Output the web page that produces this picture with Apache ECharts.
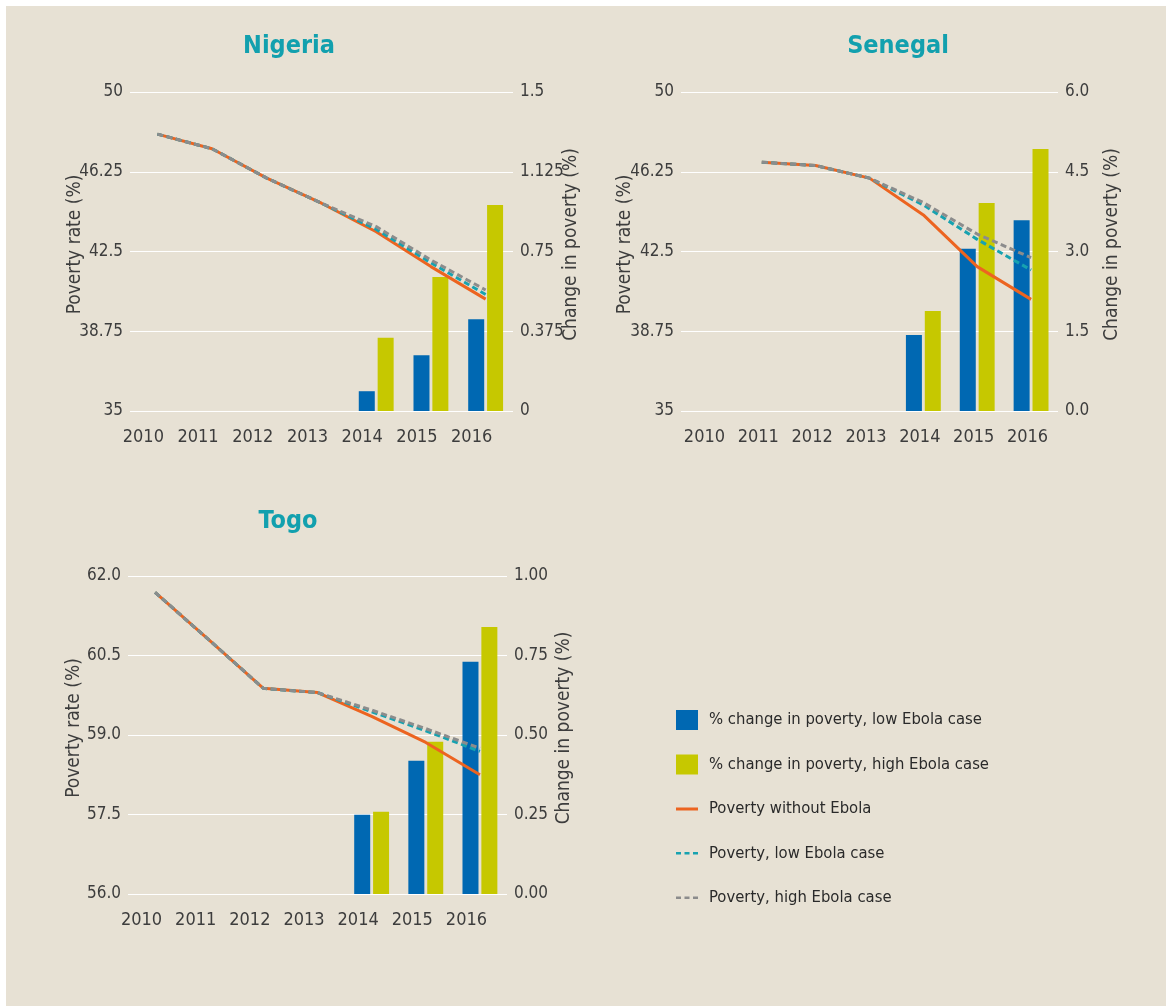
<!DOCTYPE html>
<html>
    <head>
        <meta charset="utf-8">
        <script src="https://cdn.jsdelivr.net/npm/echarts@6.0.0/dist/echarts.min.js"></script>
        <style>
            body { margin: 0; background: #ffffff; }
            #bg { position: absolute; left: 6px; top: 6px; right: 0; bottom: 0; background: #e7e1d4; }
            #main { position: absolute; left: 0; top: 0; width: 1166px; height: 1006px; }
        </style>
    </head>
    <body>
        <div id="bg"></div>
        <div id="main"></div>
        <script>
            var years = ['2010', '2011', '2012', '2013', '2014', '2015', '2016'];

            // Nigeria
            var ngNoEbola = [48.02, 47.33, 45.95, 44.77, 43.43, 41.79, 40.26];
            var ngLow     = [48.02, 47.33, 45.95, 44.77, 43.54, 41.97, 40.48];
            var ngHigh    = [48.02, 47.33, 45.95, 44.77, 43.67, 42.10, 40.69];
            var ngBarLow  = [null, null, null, null, 0.093, 0.262, 0.432];
            var ngBarHigh = [null, null, null, null, 0.344, 0.630, 0.969];

            // Senegal
            var snNoEbola = [null, 46.70, 46.54, 45.95, 44.22, 41.79, 40.25];
            var snLow     = [null, 46.70, 46.54, 45.95, 44.69, 43.07, 41.63];
            var snHigh    = [null, 46.70, 46.54, 45.95, 44.80, 43.32, 42.21];
            var snBarLow  = [null, null, null, null, 1.43, 3.05, 3.59];
            var snBarHigh = [null, null, null, null, 1.88, 3.91, 4.93];

            // Togo
            var tgNoEbola = [61.69, 60.79, 59.88, 59.80, 59.35, 58.86, 58.25];
            var tgLow     = [61.69, 60.79, 59.88, 59.80, 59.44, 59.08, 58.69];
            var tgHigh    = [61.69, 60.79, 59.88, 59.80, 59.47, 59.12, 58.75];
            var tgBarLow  = [null, null, null, null, 0.249, 0.419, 0.730];
            var tgBarHigh = [null, null, null, null, 0.259, 0.479, 0.840];

            var FONT = "'DejaVu Sans Condensed', 'Liberation Sans Narrow', sans-serif";
            var TXT = '#3d3d3d';
            var C_BLUE = '#0068b2';
            var C_GREEN = '#c6c800';
            var C_ORANGE = '#ec6420';
            var C_TEAL = '#17a2b0';
            var C_GREY = '#8c8c8c';

            var N_BAR_LOW = '% change in poverty, low Ebola case';
            var N_BAR_HIGH = '% change in poverty, high Ebola case';
            var N_NO = 'Poverty without Ebola';
            var N_LOW = 'Poverty, low Ebola case';
            var N_HIGH = 'Poverty, high Ebola case';

            // legend icons: tiny corner dots keep the 22x20 box so the stroke stays thin
            var ICON_SOLID = 'path://M0,0h0.01v0.01h-0.01z M0,8.5h22v3h-22z M21.99,19.99h0.01v0.01h-0.01z';
            var ICON_DASH = 'path://M0,0h0.01v0.01h-0.01z M0,8.5h5v2.5h-5z M8.5,8.5h5v2.5h-5z M17,8.5h5v2.5h-5z M21.99,19.99h0.01v0.01h-0.01z';

            var chartDom = document.getElementById('main');
            var myChart = echarts.init(chartDom);

            function xAxisFor(gi, shift) {
                return {
                    type: 'category', gridIndex: gi, data: years,
                    axisLine: { show: false }, axisTick: { show: false },
                    axisLabel: { interval: 0, color: TXT, fontFamily: FONT, fontSize: 18, margin: 17, padding: [0, shift, 0, 0] }
                };
            }
            function yAxisFor(gi, pos, min, max, interval, name, gap, fmt) {
                return {
                    type: 'value', gridIndex: gi, position: pos,
                    min: min, max: max, interval: interval,
                    name: name, nameLocation: 'middle', nameGap: gap, nameRotate: 90,
                    nameMoveOverlap: false,
                    nameTextStyle: { color: TXT, fontFamily: FONT, fontSize: 19, padding: [0, 0, 0, 14] },
                    axisLine: { show: false }, axisTick: { show: false },
                    axisLabel: { color: TXT, fontFamily: FONT, fontSize: 17, margin: 7, formatter: fmt },
                    splitLine: { show: pos === 'left', lineStyle: { color: '#ffffff', width: 1.2 } }
                };
            }
            function barSeries(name, xi, yi, data, color) {
                return {
                    type: 'bar', name: name, xAxisIndex: xi, yAxisIndex: yi, data: data,
                    barWidth: 16, barGap: '18%', itemStyle: { color: color }
                };
            }
            function lineSeries(name, xi, yi, data, color, dashed) {
                return {
                    type: 'line', name: name, xAxisIndex: xi, yAxisIndex: yi, data: data,
                    symbol: 'none', showSymbol: false,
                    lineStyle: { color: color, width: 3, type: dashed ? [6, 3.5] : 'solid' },
                    itemStyle: { color: color }
                };
            }

            var option = {
                animation: false,
                textStyle: { fontFamily: FONT },
                title: [
                    { text: 'Nigeria', left: 289, top: 34 },
                    { text: 'Senegal', left: 898, top: 34 },
                    { text: 'Togo', left: 288, top: 509 }
                ].map(function (t) {
                    t.textAlign = 'center';
                    t.padding = 0;
                    t.textStyle = { color: '#12a0ae', fontFamily: FONT, fontSize: 25, fontWeight: 'bold' };
                    return t;
                }),
                legend: {
                    orient: 'vertical', left: 676, top: 710, padding: 0,
                    itemWidth: 22, itemHeight: 20, itemGap: 24.5,
                    textStyle: { color: '#2a2a2a', fontFamily: FONT, fontSize: 16.5, padding: [0, 0, 0, 6] },
                    data: [
                        { name: N_BAR_LOW, icon: 'rect' },
                        { name: N_BAR_HIGH, icon: 'rect' },
                        { name: N_NO, icon: ICON_SOLID },
                        { name: N_LOW, icon: ICON_DASH },
                        { name: N_HIGH, icon: ICON_DASH }
                    ]
                },
                grid: [
                    { left: 130, top: 92, width: 383, height: 319 },
                    { left: 681, top: 92, width: 377, height: 319 },
                    { left: 128, top: 576, width: 379, height: 318 }
                ],
                xAxis: [xAxisFor(0, 28), xAxisFor(1, 7), xAxisFor(2, 27)],
                yAxis: [
                    yAxisFor(0, 'left', 35, 50, 3.75, 'Poverty rate (%)', 45),
                    yAxisFor(0, 'right', 0, 1.5, 0.375, 'Change in poverty (%)', 49),
                    yAxisFor(1, 'left', 35, 50, 3.75, 'Poverty rate (%)', 46),
                    yAxisFor(1, 'right', 0, 6, 1.5, 'Change in poverty (%)', 45, function (v) { return v.toFixed(1); }),
                    yAxisFor(2, 'left', 56, 62, 1.5, 'Poverty rate (%)', 44, function (v) { return v.toFixed(1); }),
                    yAxisFor(2, 'right', 0, 1, 0.25, 'Change in poverty (%)', 48, function (v) { return v.toFixed(2); })
                ],
                series: [
                    barSeries(N_BAR_LOW, 0, 1, ngBarLow, C_BLUE),
                    barSeries(N_BAR_HIGH, 0, 1, ngBarHigh, C_GREEN),
                    lineSeries(N_NO, 0, 0, ngNoEbola, C_ORANGE, false),
                    lineSeries(N_LOW, 0, 0, ngLow, C_TEAL, true),
                    lineSeries(N_HIGH, 0, 0, ngHigh, C_GREY, true),

                    barSeries(N_BAR_LOW, 1, 3, snBarLow, C_BLUE),
                    barSeries(N_BAR_HIGH, 1, 3, snBarHigh, C_GREEN),
                    lineSeries(N_NO, 1, 2, snNoEbola, C_ORANGE, false),
                    lineSeries(N_LOW, 1, 2, snLow, C_TEAL, true),
                    lineSeries(N_HIGH, 1, 2, snHigh, C_GREY, true),

                    barSeries(N_BAR_LOW, 2, 5, tgBarLow, C_BLUE),
                    barSeries(N_BAR_HIGH, 2, 5, tgBarHigh, C_GREEN),
                    lineSeries(N_NO, 2, 4, tgNoEbola, C_ORANGE, false),
                    lineSeries(N_LOW, 2, 4, tgLow, C_TEAL, true),
                    lineSeries(N_HIGH, 2, 4, tgHigh, C_GREY, true)
                ]
            };

            myChart.setOption(option);
        </script>
    </body>
</html>
